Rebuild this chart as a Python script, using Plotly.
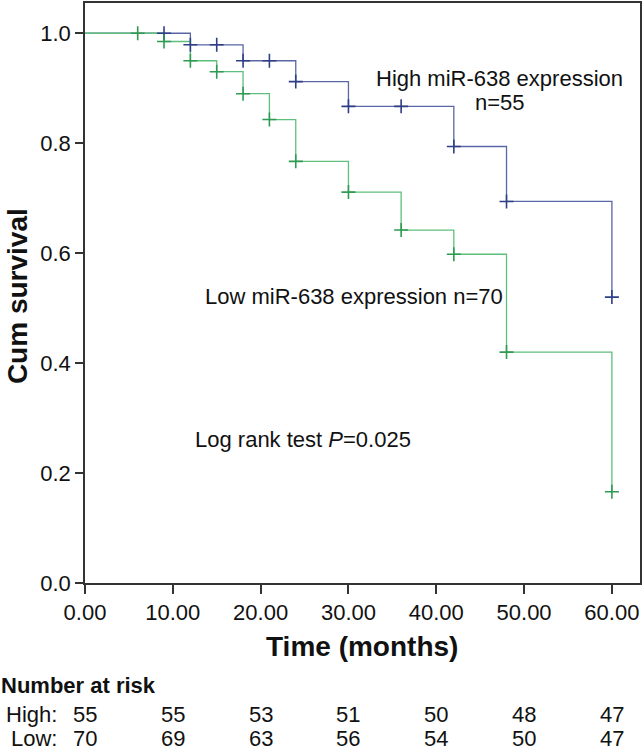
import plotly.graph_objects as go

# ---- data ----
high_times = [0, 12, 18, 24, 30, 42, 48, 60]
high_surv = [1.0, 0.979, 0.950, 0.912, 0.867, 0.794, 0.694, 0.520]
high_marks = [9, 12, 15, 18, 21, 24, 30, 36, 42, 48, 60]

low_times = [0, 9, 12, 15, 18, 21, 24, 30, 36, 42, 48, 60]
low_surv = [1.0, 0.985, 0.950, 0.930, 0.890, 0.843, 0.767, 0.711, 0.642, 0.598, 0.420, 0.166]
low_marks = [6, 9, 12, 15, 18, 21, 24, 30, 36, 42, 48, 60]

risk_times = [0, 10, 20, 30, 40, 50, 60]
risk_high = [55, 55, 53, 51, 50, 48, 47]
risk_low = [70, 69, 63, 56, 54, 50, 47]

x_ticks = [0, 10, 20, 30, 40, 50, 60]
y_ticks = [0.0, 0.2, 0.4, 0.6, 0.8, 1.0]


def step_value(times, surv, t):
    v = surv[0]
    for ti, si in zip(times, surv):
        if ti <= t:
            v = si
    return v


W, H = 643, 752
ML, MR, MT, MB = 85, 2, 1, 169
PH = H - MT - MB
PW = W - ML - MR


def py(pix):  # pixel y -> paper y
    return (H - MB - pix) / PH


def px(pix):  # pixel x -> paper x
    return (pix - ML) / PW


FONT = "Arial, Liberation Sans, sans-serif"
BLUE_LINE = "#5a67a6"
BLUE_MARK = "#2f3f86"
GREEN_LINE = "#5fbf7d"
GREEN_MARK = "#2f9a52"
FS = 22

fig = go.Figure()
fig.add_trace(go.Scatter(x=high_times, y=high_surv, mode="lines", line_shape="hv",
                         line=dict(color=BLUE_LINE, width=1.3), showlegend=False, hoverinfo="skip"))
fig.add_trace(go.Scatter(x=low_times, y=low_surv, mode="lines", line_shape="hv",
                         line=dict(color=GREEN_LINE, width=1.3), showlegend=False, hoverinfo="skip"))
fig.add_trace(go.Scatter(x=high_marks, y=[step_value(high_times, high_surv, t) for t in high_marks],
                         mode="markers", marker=dict(symbol="cross-thin", size=10,
                                                     line=dict(color=BLUE_MARK, width=1.6)),
                         showlegend=False))
fig.add_trace(go.Scatter(x=low_marks, y=[step_value(low_times, low_surv, t) for t in low_marks],
                         mode="markers", marker=dict(symbol="cross-thin", size=10,
                                                     line=dict(color=GREEN_MARK, width=1.6)),
                         showlegend=False))

ann = []
tf = dict(family=FONT, size=FS, color="#111")
ann.append(dict(x=px(500), y=py(77), xref="paper", yref="paper", text="High miR-638 expression",
                showarrow=False, font=tf, xanchor="center", yanchor="middle"))
ann.append(dict(x=px(501), y=py(101), xref="paper", yref="paper", text="n=55",
                showarrow=False, font=tf, xanchor="center", yanchor="middle"))
ann.append(dict(x=px(203), y=py(296), xref="paper", yref="paper", text="Low miR-638 expression n=70",
                showarrow=False, font=tf, xanchor="left", yanchor="middle"))
ann.append(dict(x=px(193), y=py(439), xref="paper", yref="paper", text="Log rank test <i>P</i>=0.025",
                showarrow=False, font=tf, xanchor="left", yanchor="middle"))

# axis titles
ann.append(dict(x=px(362), y=py(647), xref="paper", yref="paper", text="<b>Time (months)</b>",
                showarrow=False, font=dict(family=FONT, size=28, color="#111"),
                xanchor="center", yanchor="middle"))
ann.append(dict(x=px(18), y=py(295), xref="paper", yref="paper", text="<b>Cum survival</b>",
                showarrow=False, font=dict(family=FONT, size=28, color="#111"),
                xanchor="center", yanchor="middle", textangle=-90))

# number at risk table
ann.append(dict(x=px(-1), y=py(686), xref="paper", yref="paper", text="<b>Number at risk</b>",
                showarrow=False, font=dict(family=FONT, size=FS, color="#111"),
                xanchor="left", yanchor="middle"))
for label, vals, ypix in (("High:", risk_high, 715), ("Low:", risk_low, 739)):
    ann.append(dict(x=px(59), y=py(ypix), xref="paper", yref="paper", text=label,
                    showarrow=False, font=tf, xanchor="right", yanchor="middle"))
    for t, v in zip(risk_times, vals):
        ann.append(dict(x=t, y=py(ypix), xref="x", yref="paper", text=str(v),
                        showarrow=False, font=tf, xanchor="center", yanchor="middle"))

fig.update_layout(
    width=W, height=H,
    margin=dict(l=ML, r=MR, t=MT, b=MB),
    paper_bgcolor="white", plot_bgcolor="white",
    font=dict(family=FONT, size=FS, color="#111"),
    annotations=ann,
    showlegend=False,
)
fig.update_xaxes(range=[0, 63.2], tickvals=x_ticks, ticktext=[f"{v:.2f}" for v in x_ticks],
                 ticks="outside", ticklen=9, tickwidth=1.5, tickcolor="#333",
                 showline=True, linecolor="#333", linewidth=1.5, mirror=True,
                 showgrid=False, zeroline=False, tickfont=dict(family=FONT, size=FS, color="#111"))
fig.update_yaxes(range=[0, 1.055], tickvals=y_ticks, ticktext=[f"{v:.1f}" for v in y_ticks],
                 ticks="outside", ticklen=8, tickwidth=1.5, tickcolor="#333",
                 showline=True, linecolor="#333", linewidth=1.5, mirror=True,
                 showgrid=False, zeroline=False, tickfont=dict(family=FONT, size=FS, color="#111"))

fig.write_html("out.html", config={"displayModeBar": False},
               post_script="document.body.style.margin='0';document.body.style.overflow='hidden';")
